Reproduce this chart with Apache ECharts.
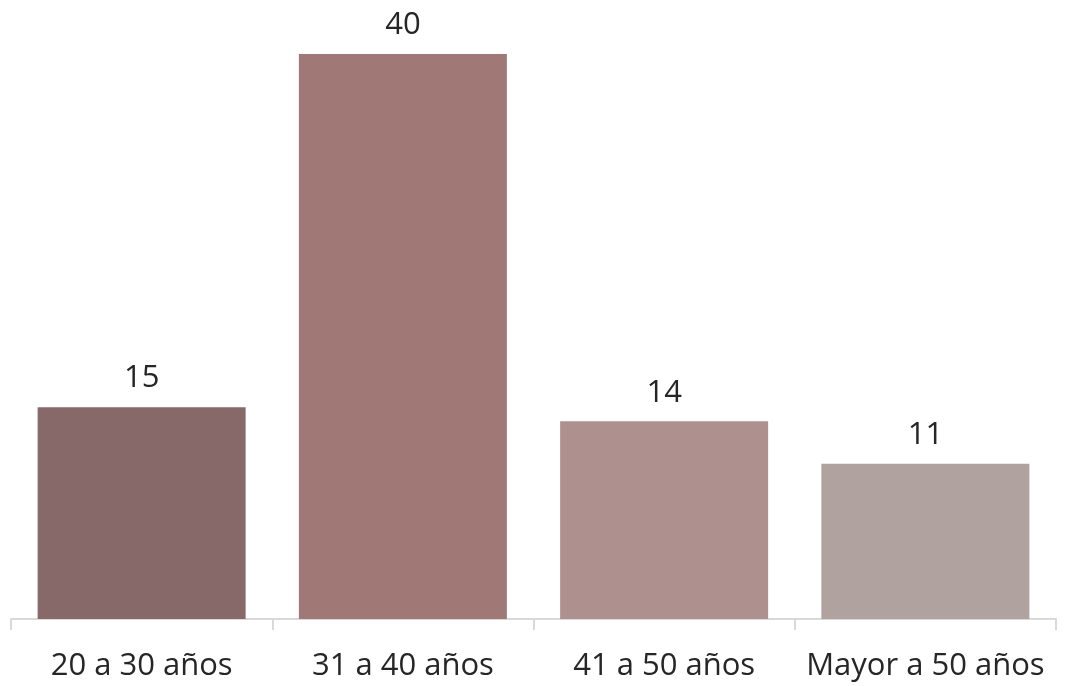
<!DOCTYPE html>
<html>
<head>
<meta charset="utf-8">
<script src="https://cdn.jsdelivr.net/npm/echarts@6/dist/echarts.min.js"></script>
<style>
html,body{margin:0;padding:0;background:#fff;}
#chart{width:1065px;height:686px;}
</style>
</head>
<body>
<div id="chart"></div>
<script>
// age groups and counts
var categories = ['20 a 30 años', '31 a 40 años', '41 a 50 años', 'Mayor a 50 años'];
var values = [15, 40, 14, 11];
var barColors = ['#88696a', '#a07977', '#ae908e', '#b0a29f'];

var chart = echarts.init(document.getElementById('chart'));
var option = {
    animation: false,
    grid: {
        left: 11,
        right: 9,
        top: 54,
        bottom: 67
    },
    xAxis: {
        type: 'category',
        data: categories,
        axisLine: {lineStyle: {color: '#d9d9d9', width: 2}},
        axisTick: {show: true, interval: 0, length: 11, lineStyle: {color: '#d9d9d9', width: 2}},
        axisLabel: {
            interval: 0,
            hideOverlap: false,
            color: '#262626',
            fontFamily: 'Open Sans',
            fontSize: 31,
            margin: 32
        }
    },
    yAxis: {
        type: 'value',
        min: 0,
        max: 40,
        show: false,
        splitLine: {show: false}
    },
    series: [{
        type: 'bar',
        barWidth: 208,
        data: values.map(function (v, i) {
            return {value: v, itemStyle: {color: barColors[i]}};
        }),
        label: {
            show: true,
            position: 'top',
            distance: 13,
            color: '#262626',
            fontFamily: 'Open Sans',
            fontSize: 31
        }
    }]
};
chart.setOption(option);
</script>
</body>
</html>
